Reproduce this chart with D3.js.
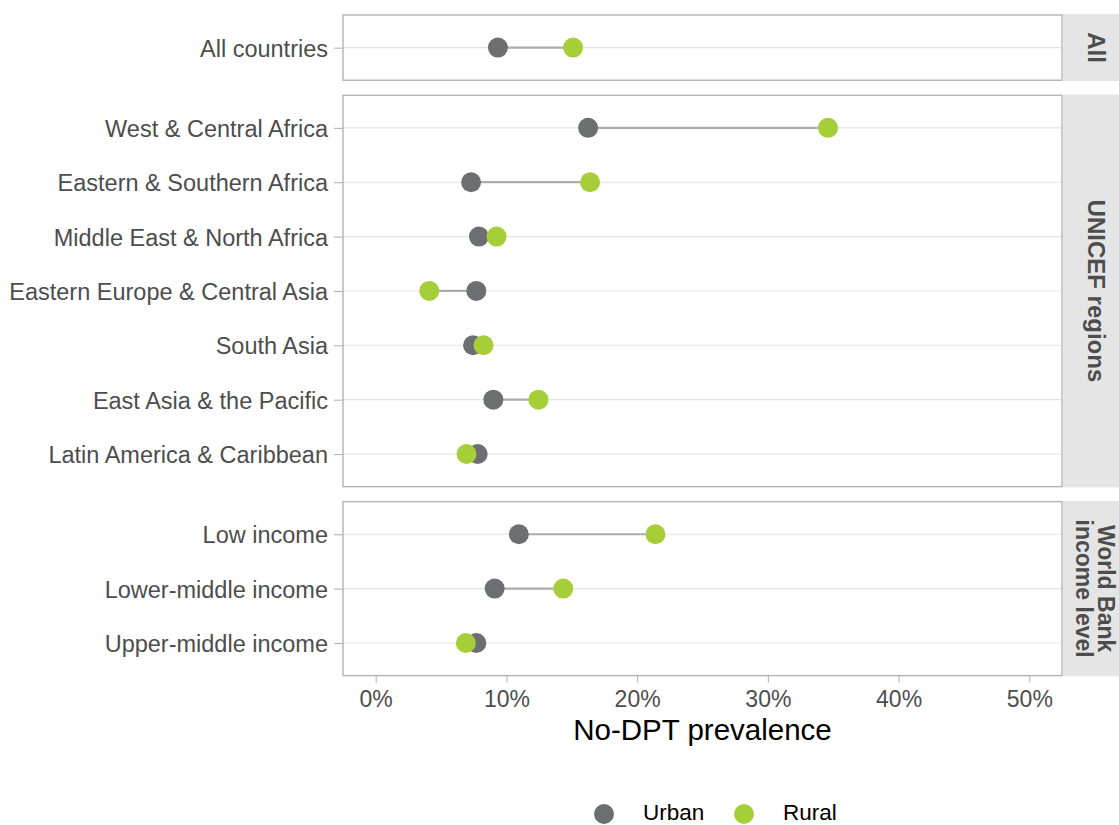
<!DOCTYPE html>
<html>
<head>
<meta charset="utf-8">
<script src="https://cdn.jsdelivr.net/npm/d3@7"></script>
<style>
  html, body { margin: 0; padding: 0; background: #fff; }
  svg { display: block; font-family: "Liberation Sans", Arial, sans-serif; }
</style>
</head>
<body>
<svg id="chart" width="1119" height="825"></svg>
<script>
// ---- Data ----
const facets = ["All", "UNICEF regions", "World Bank\nincome level"];
const categories = [
  "All countries",
  "West & Central Africa",
  "Eastern & Southern Africa",
  "Middle East & North Africa",
  "Eastern Europe & Central Asia",
  "South Asia",
  "East Asia & the Pacific",
  "Latin America & Caribbean",
  "Low income",
  "Lower-middle income",
  "Upper-middle income"
];
const facetOf = [0, 1, 1, 1, 1, 1, 1, 1, 2, 2, 2];
const urban = [9.35, 16.25, 7.3, 7.9, 7.7, 7.45, 9.0, 7.8, 10.95, 9.1, 7.7];
const rural = [15.1, 34.6, 16.4, 9.25, 4.1, 8.25, 12.45, 6.95, 21.4, 14.35, 6.9];
const xTicks = [0, 10, 20, 30, 40, 50];
const seriesNames = ["Urban", "Rural"];
const seriesColors = ["#6d6e71", "#a6ce39"];

(function () {
// ---- Layout ----
const svg = d3.select("#chart");
const pLeft = 343, pRight = 1062, pTop = 15, pBottom = 675.6, gap = 15;
const stripRight = 1119;

const x = d3.scaleLinear().domain([-2.5, 52.5]).range([pLeft, pRight]);

const counts = facets.map((f, i) => facetOf.filter(g => g === i).length);
const units = counts.map(n => n - 1 + 1.2);
const totalUnits = d3.sum(units);
const unitPx = (pBottom - pTop - gap * (facets.length - 1)) / totalUnits;

let cursor = pTop;
const panels = facets.map((f, i) => {
  const h = units[i] * unitPx;
  const p = { name: f, y0: cursor, y1: cursor + h,
    cats: categories.filter((c, j) => facetOf[j] === i) };
  cursor += h + gap;
  p.y = d3.scalePoint().domain(p.cats).range([p.y0, p.y1]).padding(0.6);
  return p;
});

const rows = categories.map((c, i) => ({ cat: c, facet: facetOf[i], urban: urban[i], rural: rural[i] }));

panels.forEach((p, i) => {
  const g = svg.append("g");
  g.selectAll("line.grid").data(p.cats).join("line")
    .attr("x1", pLeft).attr("x2", pRight)
    .attr("y1", d => p.y(d)).attr("y2", d => p.y(d))
    .attr("stroke", "#e3e3e3").attr("stroke-width", 1.1);

  const yAxis = d3.axisLeft(p.y).tickSize(9).tickPadding(6);
  const ya = g.append("g").attr("transform", `translate(${pLeft},0)`).call(yAxis);
  ya.select(".domain").remove();
  ya.selectAll(".tick line").attr("stroke", "#b3b3b3").attr("stroke-width", 1.1);
  ya.selectAll(".tick text").attr("fill", "#4d4d4d")
    .style("font-size", "23.5px").attr("font-family", "Liberation Sans, Arial, sans-serif")
    .attr("dy", "0.36em");

  const data = rows.filter(r => r.facet === i);
  g.selectAll("line.seg").data(data).join("line")
    .attr("x1", d => x(d.urban)).attr("x2", d => x(d.rural))
    .attr("y1", d => p.y(d.cat)).attr("y2", d => p.y(d.cat))
    .attr("stroke", "#ababab").attr("stroke-width", 2.2);
  g.selectAll("circle.u").data(data).join("circle")
    .attr("cx", d => x(d.urban)).attr("cy", d => p.y(d.cat)).attr("r", 10)
    .attr("fill", seriesColors[0]);
  g.selectAll("circle.r").data(data).join("circle")
    .attr("cx", d => x(d.rural)).attr("cy", d => p.y(d.cat)).attr("r", 10)
    .attr("fill", seriesColors[1]);

  g.append("rect").attr("x", pLeft).attr("y", p.y0)
    .attr("width", pRight - pLeft).attr("height", p.y1 - p.y0)
    .attr("fill", "none").attr("stroke", "#b3b3b3").attr("stroke-width", 1.4);

  g.append("rect").attr("x", pRight + 0.8).attr("y", p.y0 - 0.7)
    .attr("width", stripRight - pRight).attr("height", p.y1 - p.y0 + 1.4)
    .attr("fill", "#e5e5e5");
  const lines = p.name.split("\n");
  const cy = (p.y0 + p.y1) / 2;
  const lineH = 22;
  const fs = lines.length > 1 ? 23 : 24;
  const cx = (lines.length > 1 ? 1095 : 1096.5) + (lines.length - 1) * lineH / 2;
  lines.forEach((ln, k) => {
    g.append("text")
      .attr("transform", `translate(${cx - k * lineH},${cy}) rotate(90)`)
      .attr("text-anchor", "middle").attr("dy", "0.36em")
      .attr("fill", "#4d4d4d").attr("font-weight", "bold")
      .style("font-size", fs + "px").text(ln);
  });
});

const last = panels[panels.length - 1];
const xAxis = d3.axisBottom(x).tickValues(xTicks).tickFormat(d => d + "%").tickSize(7).tickPadding(4);
const xa = svg.append("g").attr("transform", `translate(0,${last.y1})`).call(xAxis);
xa.select(".domain").remove();
xa.selectAll(".tick line").attr("stroke", "#b3b3b3").attr("stroke-width", 1.1);
xa.selectAll(".tick text").attr("fill", "#4d4d4d").style("font-size", "23px")
  .attr("font-family", "Liberation Sans, Arial, sans-serif").attr("dy", "0.9em");

svg.append("text").attr("x", (pLeft + pRight) / 2).attr("y", 740)
  .attr("text-anchor", "middle").attr("fill", "#000").style("font-size", "29.5px")
  .text("No-DPT prevalence");

const legendX = [604, 744];
seriesNames.forEach((s, i) => {
  svg.append("circle").attr("cx", legendX[i]).attr("cy", 814).attr("r", 10).attr("fill", seriesColors[i]);
  svg.append("text").attr("x", legendX[i] + 39).attr("y", 820)
    .attr("fill", "#000").style("font-size", "22.5px").text(s);
});
})();
</script>
</body>
</html>
